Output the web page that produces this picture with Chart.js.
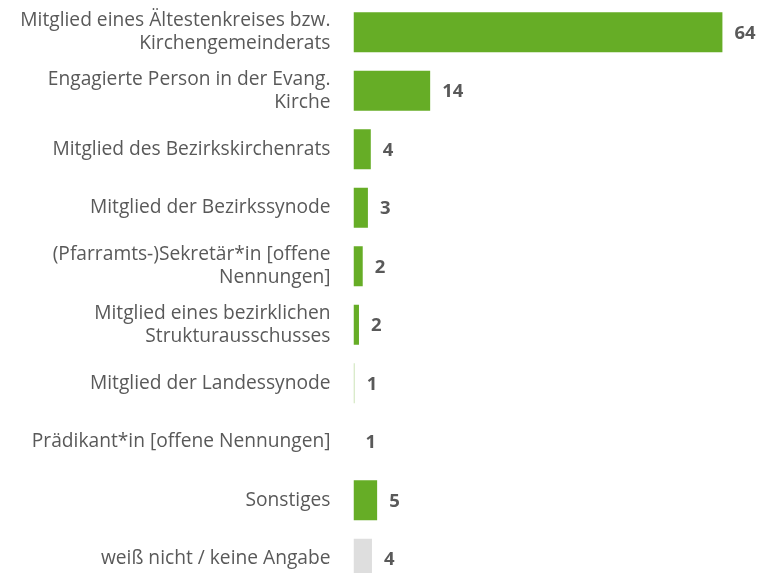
<!DOCTYPE html>
<html>
<head>
<meta charset="utf-8">
<style>
  html, body { margin: 0; padding: 0; background: #fff; overflow: hidden; }
  #wrap { width: 757px; height: 573px; overflow: hidden; }
</style>
<script src="https://cdn.jsdelivr.net/npm/chart.js@4/dist/chart.umd.min.js"></script>
</head>
<body>
<div id="wrap"><canvas id="chart" width="757" height="588"></canvas></div>
<script>
const categories = [
  ['Mitglied eines Ältestenkreises bzw.', 'Kirchengemeinderats'],
  ['Engagierte Person in der Evang.', 'Kirche'],
  'Mitglied des Bezirkskirchenrats',
  'Mitglied der Bezirkssynode',
  ['(Pfarramts-)Sekretär*in [offene', 'Nennungen]'],
  ['Mitglied eines bezirklichen', 'Strukturausschusses'],
  'Mitglied der Landessynode',
  'Prädikant*in [offene Nennungen]',
  'Sonstiges',
  'weiß nicht / keine Angabe'
];
// bar lengths
const values = [64, 13.3, 3.0, 2.5, 1.6, 0.95, 0.2, 0, 4.1, 3.2];
// numbers printed next to the bars
const valueLabels = ['64', '14', '4', '3', '2', '2', '1', '1', '5', '4'];
const barColors = ['#66ad26', '#66ad26', '#66ad26', '#66ad26', '#66ad26', '#66ad26', '#c6e0b0', '#66ad26', '#66ad26', '#dedede'];

const FONT = '"Open Sans", Lato, sans-serif';

const valueLabelPlugin = {
  id: 'valueLabels',
  afterDatasetsDraw(chart) {
    const ctx = chart.ctx;
    const meta = chart.getDatasetMeta(0);
    ctx.save();
    ctx.font = 'bold 18.5px ' + FONT;
    ctx.fillStyle = '#595959';
    ctx.textAlign = 'left';
    ctx.textBaseline = 'middle';
    meta.data.forEach((bar, i) => {
      ctx.fillText(valueLabels[i], bar.x + 12, bar.y + 1);
    });
    ctx.restore();
  }
};

new Chart(document.getElementById('chart'), {
  type: 'bar',
  data: {
    labels: categories,
    datasets: [{
      data: values,
      backgroundColor: barColors,
      categoryPercentage: 1,
      barPercentage: 0.684
    }]
  },
  options: {
    indexAxis: 'y',
    responsive: false,
    animation: false,
    layout: { padding: { top: 3, right: 0, bottom: 0, left: 0 } },
    plugins: {
      legend: { display: false },
      tooltip: { enabled: false }
    },
    scales: {
      x: {
        display: false,
        min: 0,
        max: 70
      },
      y: {
        afterFit(scale) {
          scale.width = 353.5;
          scale.paddingTop = 0;
          scale.paddingBottom = 0;
        },
        grid: { display: false },
        border: { display: false },
        ticks: {
          color: '#595959',
          padding: 15,
          autoSkip: false,
          font: { family: FONT, size: 19.2, lineHeight: 1.18 }
        }
      }
    }
  },
  plugins: [valueLabelPlugin]
});
</script>
</body>
</html>
